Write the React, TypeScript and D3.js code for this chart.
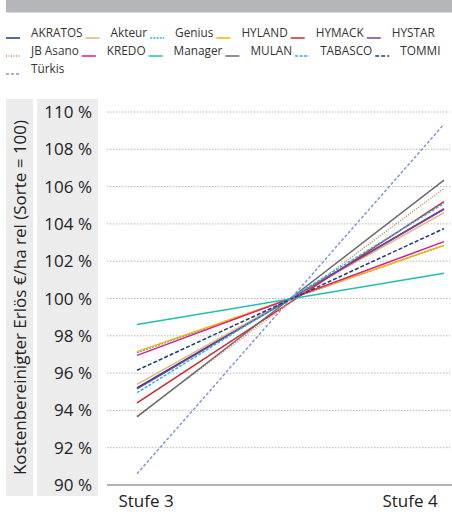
import React from "react";
import * as d3 from "d3";

const stages = ["Stufe 3", "Stufe 4"];
const varieties = ["AKRATOS", "Akteur", "Genius", "HYLAND", "HYMACK", "HYSTAR", "JB Asano", "KREDO", "Manager", "MULAN", "TABASCO", "TOMMI", "Türkis"];
const stufe3 = [95.2, 95.4, 97.1, 97.15, 94.4, 95.15, 93.7, 96.95, 98.6, 93.65, 94.95, 96.15, 90.6];
const stufe4 = [104.8, 104.6, 102.85, 102.85, 105.2, 104.8, 105.9, 103.05, 101.35, 106.35, 105.1, 103.75, 109.35];
const yTicks = [90, 92, 94, 96, 98, 100, 102, 104, 106, 108, 110];
const colors = ["#1d3b6f", "#e4b47e", "#27b3e6", "#f4b400", "#d8232a", "#7c3f9e", "#c98a5c", "#e2187b", "#1ebfb0", "#6b6b6b", "#27b3e6", "#1d3b6f", "#7f96d8"];
const dashes = ["", "", "2,1.2", "", "", "", "1,1.5", "", "", "", "3,1.5", "4,2", "3,2"];
const legendRowStarts = [0, 6, 12];

const W = 452, H = 512;
const FONT = "'Open Sans', sans-serif";

function measure(text: string, size: number) {
  const c = document.createElement("canvas").getContext("2d")!;
  c.font = `${size}px 'Open Sans', sans-serif`;
  return c.measureText(text).width;
}

export default function App() {
  const x = d3.scalePoint<string>().domain(stages).range([137, 444]);
  const y = d3.scaleLinear().domain([90, 110]).range([485, 112]);
  const line = d3.line<[string, number]>().x(d => x(d[0])!).y(d => y(d[1]));

  const legendSize = 11.8;
  const legendItems: { name: string; i: number; lx: number; ly: number }[] = [];
  let cx = 6, row = 0;
  varieties.forEach((name, i) => {
    if (legendRowStarts.includes(i)) {
      row = legendRowStarts.indexOf(i);
      cx = 6;
    }
    legendItems.push({ name, i, lx: cx, ly: 37 + row * 18 });
    cx += 14 + 11 + measure(name, legendSize) + 3;
  });

  return (
    <svg width={W} height={H} style={{ position: "absolute", left: 0, top: 0, background: "#fff" }} fontFamily={FONT}>
      <rect x={6} y={0} width={W - 6} height={12.5} fill="#b5b6b9" />
      {legendItems.map(it => (
        <g key={it.name}>
          <line x1={it.lx} x2={it.lx + 14} y1={it.ly + 1} y2={it.ly + 1} stroke={colors[it.i]} strokeWidth={1.5} strokeDasharray={dashes[it.i] || undefined} />
          <text x={it.lx + 25} y={it.ly} fontSize={legendSize} fill="#333">{it.name}</text>
        </g>
      ))}
      <rect x={6} y={99} width={27} height={397} fill="#ececec" />
      <rect x={37} y={99} width={61} height={397} fill="#ececec" />
      <text transform={`translate(25.5,${(99 + 496) / 2}) rotate(-90)`} textAnchor="middle" fontSize={17} fill="#222">Kostenbereinigter Erlös €/ha rel (Sorte = 100)</text>
      {yTicks.map(t => (
        <g key={t}>
          <text x={92} y={y(t) + 6} textAnchor="end" fontSize={17} fill="#222">{t} %</text>
          {t !== 90 && <line x1={107} x2={450} y1={y(t)} y2={y(t)} stroke="#b8b8b8" strokeWidth={1} strokeDasharray="1.5,1.5" />}
        </g>
      ))}
      <line x1={107} x2={452} y1={y(90)} y2={y(90)} stroke="#9a9a9a" strokeWidth={1.5} />
      {stages.map((s, i) => (
        <text key={s} x={i === 0 ? 146 : 410} y={507} textAnchor="middle" fontSize={17} fill="#222">{s}</text>
      ))}
      {varieties.map((name, i) => (
        <path key={name} d={line([[stages[0], stufe3[i]], [stages[1], stufe4[i]]])!} fill="none" stroke={colors[i]} strokeWidth={1.5} strokeDasharray={dashes[i] || undefined} />
      ))}
    </svg>
  );
}
